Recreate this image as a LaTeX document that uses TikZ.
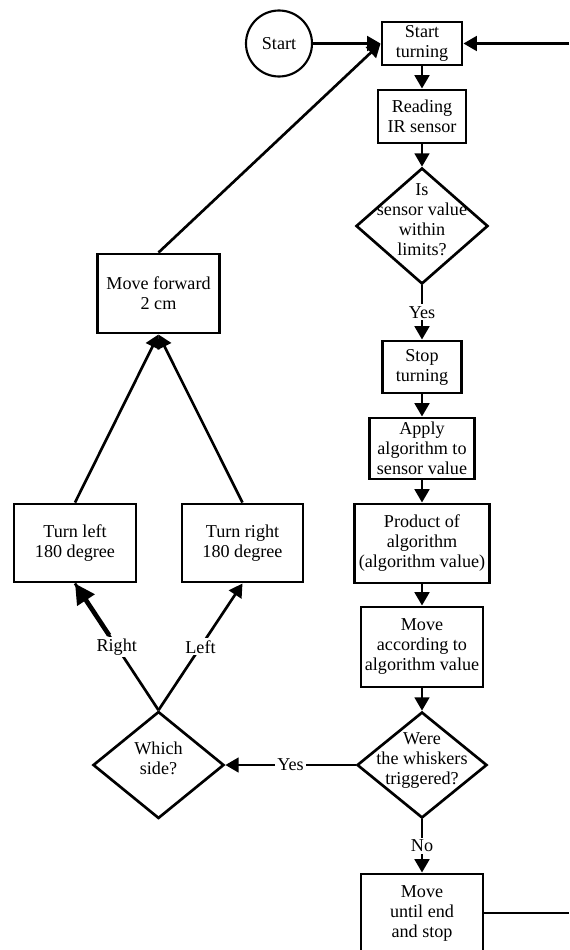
\documentclass[tikz,border=0pt]{standalone}
\usepackage{fontspec}
\setmainfont{Liberation Serif}
\usetikzlibrary{arrows.meta,shapes.geometric}
\newcommand{\dtext}[1]{\makebox[0pt]{\smash{\begin{tabular}{@{}c@{}}#1\end{tabular}}}}
\begin{document}
\begin{tikzpicture}
	[x=0.75pt,y=-0.75pt,
	every node/.style={font=\fontsize{13.6}{15}\selectfont},
	box/.style={draw,line width=2.2pt,align=center,inner sep=1pt},
	decision/.style={draw,diamond,line width=2pt,inner sep=0pt},
	arr/.style={line width=2pt,-{Triangle[length=10pt,width=11pt]}},
	lbl/.style={fill=white,inner sep=1.5pt}]
	\useasboundingbox (0,0) rectangle (569,950);
	\node[draw,circle,line width=1.6pt,minimum size=49.5pt,inner sep=0pt] (start) at (279,43.5) {Start};
	\node[box,minimum width=60pt,minimum height=32.25pt] (st) at (422,43.5) {Start\\turning};
	\node[box,minimum width=66pt,minimum height=39.75pt] (ir) at (422,116.5) {Reading\\IR sensor};
	\node[decision,minimum width=99pt,minimum height=87pt] (d1) at (422,226) {\dtext{Is\\sensor value\\within\\limits?}};
	\node[box,minimum width=59.25pt,minimum height=39pt] (stop) at (422,367) {Stop\\turning};
	\node[box,minimum width=78.75pt,minimum height=45.75pt] (apply) at (422,448.5) {Apply\\algorithm to\\sensor value};
	\node[box,minimum width=101.25pt,minimum height=59.25pt] (prod) at (422,543.5) {Product of\\algorithm\\(algorithm value)};
	\node[box,minimum width=91.5pt,minimum height=60pt] (mac) at (422,647) {Move\\according to\\algorithm value};
	\node[decision,minimum width=97.5pt,minimum height=79.5pt] (d2) at (422,765) {\dtext{Were\\the whiskers\\triggered?}};
	\node[box,minimum width=91.5pt,minimum height=58.5pt] (mue) at (422,913) {Move\\until end\\and stop};
	\node[decision,minimum width=98.25pt,minimum height=80.25pt] (ws) at (158.5,765) {\dtext{Which\\side?}};
	\node[box,minimum width=91.5pt,minimum height=58.5pt] (tl) at (75,543) {Turn left\\180 degree};
	\node[box,minimum width=90.75pt,minimum height=58.5pt] (tr) at (242.5,543) {Turn right\\180 degree};
	\node[box,minimum width=91.5pt,minimum height=59.25pt] (mf) at (158.5,293.5) {Move forward\\2 cm};
	\coordinate (rin) at (569,43.5);
	\coordinate (rout) at (569,913);
	\draw[arr] (start) -- (st);
	\draw[arr] (rin) -- (st);
	\draw[arr] (st) -- (ir);
	\draw[arr] (ir) -- (d1);
	\draw[arr] (d1) -- node[lbl] {Yes} (stop);
	\draw[arr] (stop) -- (apply);
	\draw[arr] (apply) -- (prod);
	\draw[arr] (prod) -- (mac);
	\draw[arr] (mac) -- (d2);
	\draw[arr] (d2) -- node[lbl] {No} (mue);
	\draw[line width=2pt] (mue) -- (rout);
	\draw[arr] (d2) -- node[lbl] {Yes} (ws);
	\draw[line width=2pt] (ws.north) -- node[lbl] (rlab) {Right} (tl.south);
	\draw[line width=3.5pt,-{Triangle[length=15pt,width=15pt]}] (rlab) -- (tl.south);
	\draw[arr] (ws.north) -- node[lbl] {Left} (tr.south);
	\draw[arr] (tl.north) -- (mf.south);
	\draw[arr] (tr.north) -- (mf.south);
	\draw[arr] (mf.north) -- (st.west);
\end{tikzpicture}
\end{document}
